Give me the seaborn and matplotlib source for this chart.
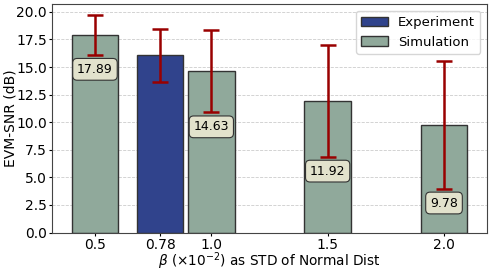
import matplotlib
matplotlib.use("Agg")
import matplotlib.pyplot as plt
import seaborn as sns
import numpy as np
import pandas as pd

# valores
beta = [0.5, 0.78, 1.0, 1.5, 2.0]
beta_labels = ["0.5", "0.78", "1.0", "1.5", "2.0"]
snr = [17.89, 16.05, 14.63, 11.92, 9.78]
snr_std = [1.8, 2.37, 3.75, 5.05, 5.8]
fonte = ["Simulation", "Experiment", "Simulation", "Simulation", "Simulation"]

df = pd.DataFrame({"beta": beta, "snr": snr, "std": snr_std, "fonte": fonte})

sns.set_style("white")
plt.rcParams['font.family'] = ['DejaVu Sans']
plt.rcParams['text.color'] = 'black'
plt.rcParams['axes.labelcolor'] = 'black'
plt.rcParams['xtick.color'] = 'black'
plt.rcParams['ytick.color'] = 'black'

fig, ax = plt.subplots(figsize=(4.9, 2.73), dpi=100)
fig.subplots_adjust(left=0.106, right=0.994, bottom=0.148, top=0.985)

sns.barplot(data=df, x="beta", y="snr", hue="fonte", hue_order=["Experiment", "Simulation"],
            palette={"Experiment": "#30438c", "Simulation": "#90a99b"}, saturation=1,
            native_scale=True, dodge=False, width=0.2 / 0.22,
            edgecolor="#333333", linewidth=1.0, errorbar=None, ax=ax)

ax.errorbar(df["beta"], df["snr"], yerr=df["std"], fmt="none", ecolor="#990000",
            elinewidth=1.8, capsize=6, capthick=1.8, zorder=5)

# rótulos só nas barras de simulação
sim = df[df["fonte"] == "Simulation"]
for b, v, s in zip(sim["beta"], sim["snr"], sim["std"]):
    ax.text(b, v - s - 1.3, f"{v:.2f}", ha="center", va="center", fontsize=9, zorder=6,
            bbox=dict(boxstyle="round,pad=0.35", facecolor="#e2e2cc", edgecolor="#333333", linewidth=0.8))

ax.set_xticks(beta)
ax.set_xticklabels(beta_labels)
ax.set_yticks(np.arange(0, 20.01, 2.5))
ax.set_xlim(0.315, 2.185)
ax.set_ylim(0, 20.7)
ax.yaxis.grid(True, linestyle="--", color="#cccccc", linewidth=0.6)
ax.set_axisbelow(True)
ax.tick_params(axis="both", labelsize=10, length=2.5, pad=1.2, left=True, bottom=True)
for sp in ax.spines.values():
    sp.set_color("#444444")
ax.set_xlabel(r"$\beta$ ($\times10^{-2}$) as STD of Normal Dist", fontsize=9.8)
ax.set_ylabel("EVM-SNR (dB)", fontsize=10)
ax.xaxis.set_label_coords(0.5, -0.078)
ax.yaxis.set_label_coords(-0.08, 0.5)
ax.legend(loc="upper right", fontsize=9.5, title=None)

plt.savefig("out.png")
